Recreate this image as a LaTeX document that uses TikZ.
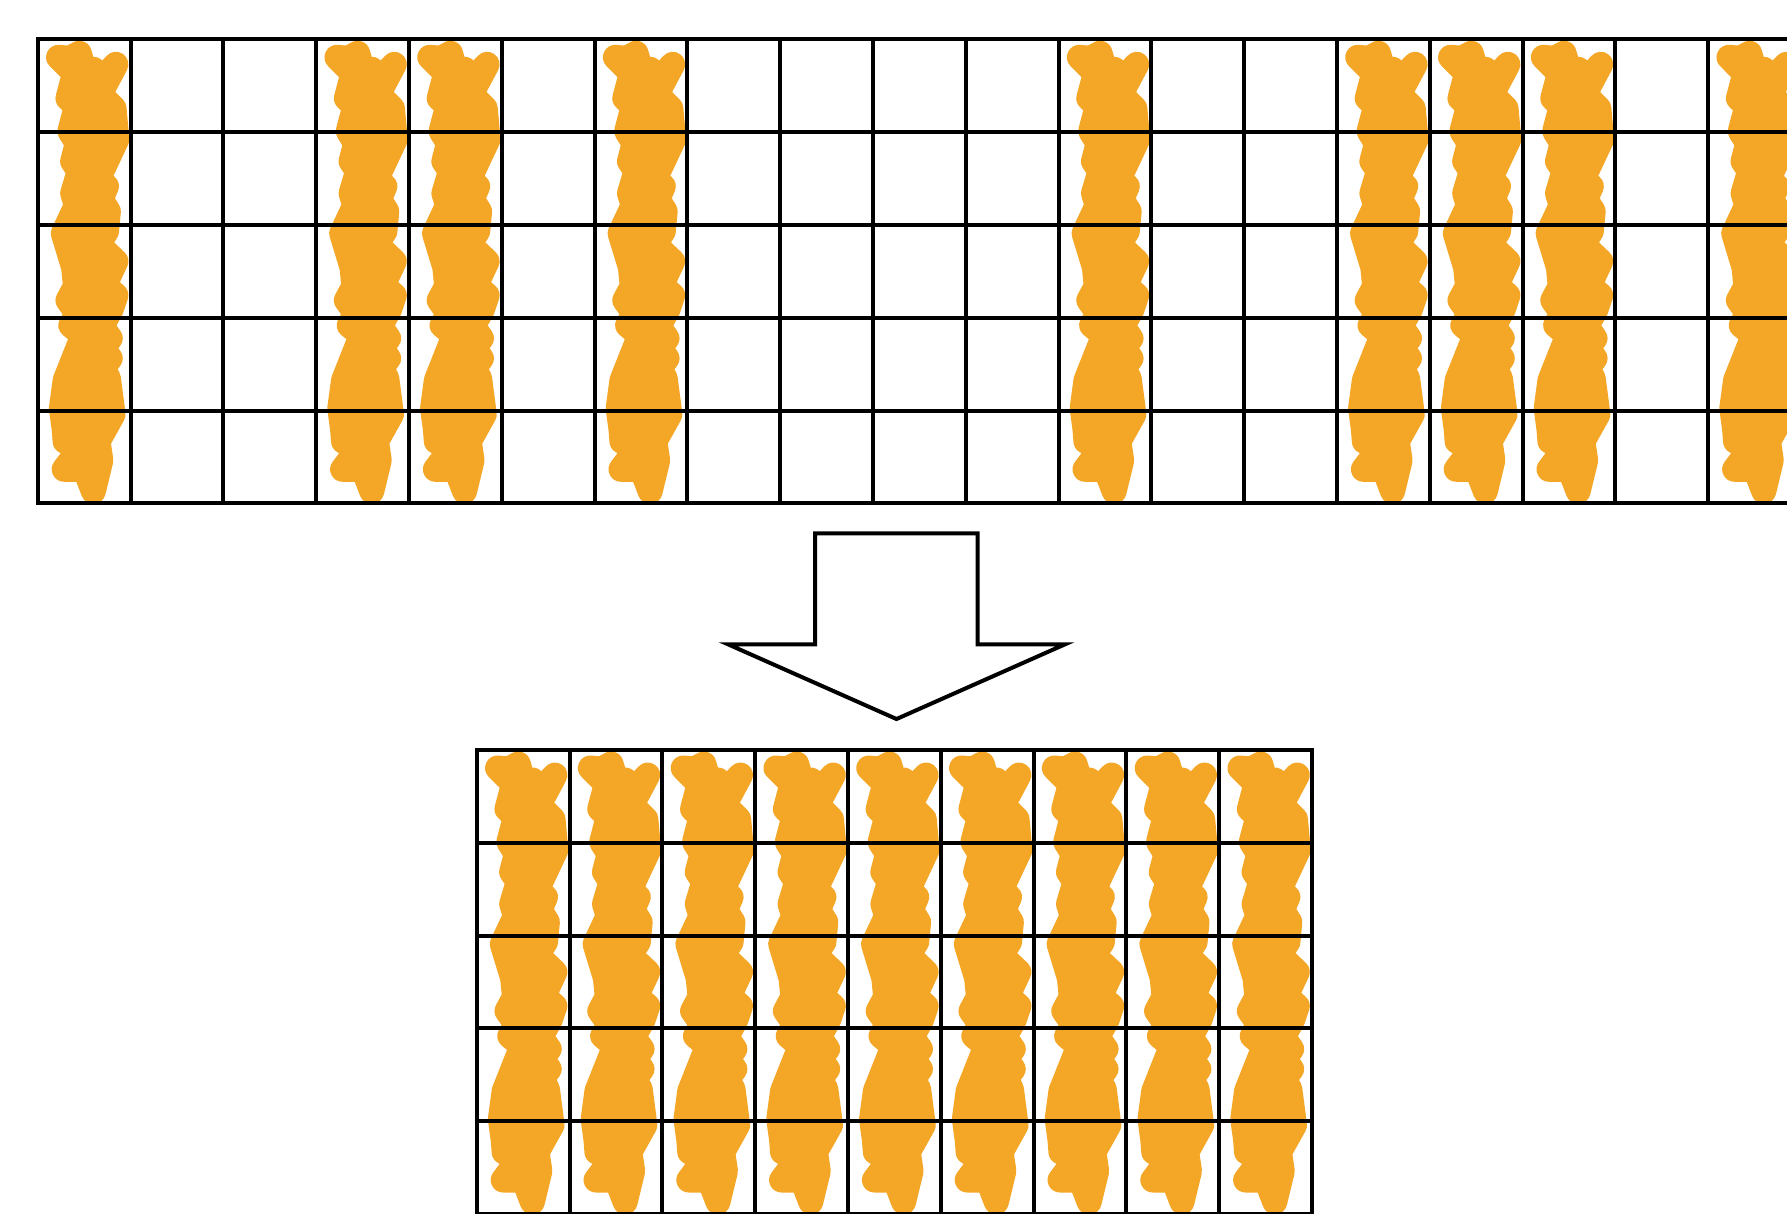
\documentclass[tikz,border=0pt]{standalone}
\definecolor{marker}{HTML}{F4A726}
\tikzset{
  gridline/.style={line width=4pt, draw=black, line cap=rect},
  markstroke/.style={line width=25pt, draw=marker, fill=marker, line cap=round, line join=round},
  bigarrow/.style={line width=4pt, draw=black, fill=white, line join=miter},
  % one hand-drawn marker column, 92.8 wide and 464 tall, drawn from its top-left corner
  markcol/.pic={
    \filldraw[markstroke, shift={(3,0)}, xscale=0.94]
      (19,18) -- (31,19) -- (41,14) -- (47,33) -- (56,30) -- (60,45)
      -- (80,25) -- (63,55) -- (78,69) -- (81,100) -- (61,140)
      -- (70,147) -- (64,160) -- (72,172) -- (70,192) -- (61,205)
      -- (80,222) -- (68,246) -- (80,256) -- (75,270) -- (65,287)
      -- (74,299) -- (66,309) -- (74,319) -- (66,329) -- (72,339)
      -- (77,375) -- (61,402) -- (64,421) -- (56,452) -- (47,430)
      -- (25,430) -- (41,410) -- (26,402) -- (25,390) -- (22,369)
      -- (26,341) -- (45,296) -- (32,286) -- (39,274) -- (29,261)
      -- (37,247) -- (35,228) -- (24,194) -- (38,166) -- (34,154)
      -- (41,132) -- (34,122) -- (39,104) -- (31,92) -- (38,67)
      -- (29,59) -- (36,34) -- cycle;
  }
}
\begin{document}
\begin{tikzpicture}[x=1pt, y=-1pt]
  \useasboundingbox (0,0) rectangle (1787,1213);
  \clip (0,0) rectangle (1787,1213);

  % marked columns of the long strip
  \foreach \k in {0,3,4,6,11,14,15,16,18}
    \pic at ({37.7+92.8*\k},39.3) {markcol};

  % long strip: 5 rows, running past the right edge
  \foreach \k in {0,...,18}
    \draw[gridline] ({37.7+92.8*\k},39.3) -- ++(0,464);
  \foreach \r in {0,...,5}
    \draw[gridline] (37.7,{39.3+92.8*\r}) -- (1800,{39.3+92.8*\r});

  % block arrow pointing down
  \draw[bigarrow] (815,533.3) -- (977.7,533.3) -- (977.7,644.3) -- (1065,644.3)
    -- (896.5,719) -- (728,644.3) -- (815,644.3) -- cycle;

  % compacted block: 9 marked columns
  \foreach \k in {0,...,8}
    \pic at ({476.7+92.8*\k},750) {markcol};
  \foreach \k in {0,...,9}
    \draw[gridline] ({476.7+92.8*\k},750) -- ++(0,464);
  \foreach \r in {0,...,5}
    \draw[gridline] (476.7,{750+92.8*\r}) -- ({476.7+92.8*9},{750+92.8*\r});
\end{tikzpicture}
\end{document}
